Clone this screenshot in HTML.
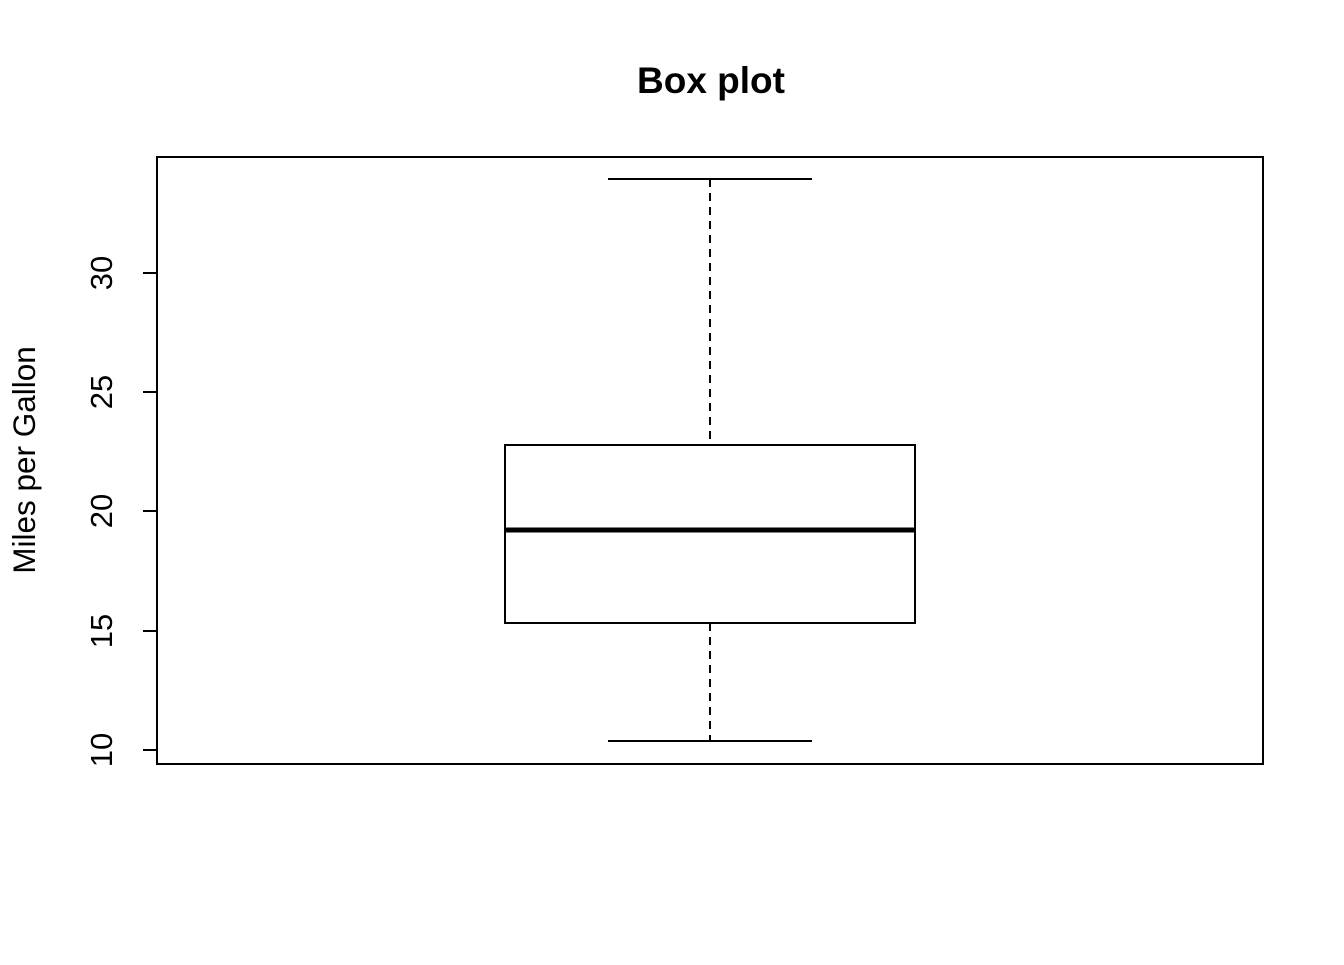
<!DOCTYPE html>
<html><head><meta charset="utf-8"><style>html,body{margin:0;padding:0;background:#fff}</style></head>
<body>
<svg width="1344" height="960" viewBox="0 0 1344 960" xmlns="http://www.w3.org/2000/svg" font-family="Liberation Sans, Arial, sans-serif">
<rect width="1344" height="960" fill="#fff"/>
<text x="711" y="93" text-anchor="middle" font-size="37" font-weight="bold">Box plot</text>
<rect x="157" y="157" width="1106" height="607" fill="none" stroke="#000" stroke-width="2"/>
<g stroke="#000" stroke-width="2">
<line x1="157" y1="750" x2="157" y2="273"/>
<line x1="143" y1="750" x2="157" y2="750"/>
<line x1="143" y1="631" x2="157" y2="631"/>
<line x1="143" y1="511" x2="157" y2="511"/>
<line x1="143" y1="392" x2="157" y2="392"/>
<line x1="143" y1="273" x2="157" y2="273"/>
<line x1="710" y1="179" x2="710" y2="445" stroke-dasharray="8,6"/>
<line x1="710" y1="623" x2="710" y2="741" stroke-dasharray="8,6"/>
<line x1="608" y1="179" x2="812" y2="179"/>
<line x1="608" y1="741" x2="812" y2="741"/>
<rect x="505" y="445" width="410" height="178" fill="none"/>
<line x1="505" y1="530" x2="915" y2="530" stroke-width="5"/>
</g>
<g font-size="31" text-anchor="middle">
<text transform="translate(112,750) rotate(-90)">10</text>
<text transform="translate(112,631) rotate(-90)">15</text>
<text transform="translate(112,511) rotate(-90)">20</text>
<text transform="translate(112,392) rotate(-90)">25</text>
<text transform="translate(112,273) rotate(-90)">30</text>
<text transform="translate(35,460) rotate(-90)" font-size="31.5">Miles per Gallon</text>
</g>
</svg>
</body></html>
